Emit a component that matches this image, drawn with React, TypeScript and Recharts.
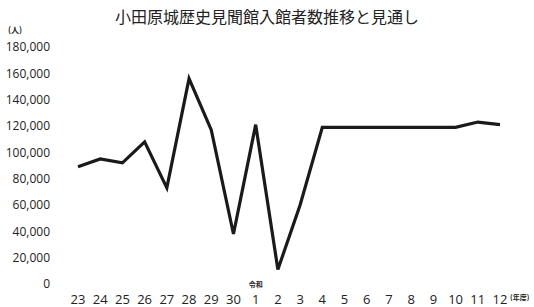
import { Line, LineChart, XAxis, YAxis } from "recharts";

const years = ["23", "24", "25", "26", "27", "28", "29", "30", "1", "2", "3", "4", "5", "6", "7", "8", "9", "10", "11", "12"];
const visitors = [89000, 95000, 92000, 108000, 73000, 156000, 117000, 38000, 121000, 11000, 60000, 119000, 119000, 119000, 119000, 119000, 119000, 119000, 123000, 121000];
const yTicks = [0, 20000, 40000, 60000, 80000, 100000, 120000, 140000, 160000, 180000];

const data = years.map((year, i) => ({ year, visitors: visitors[i] }));

const font = "'Open Sans', 'Noto Sans CJK JP', sans-serif";

function YearTick(props: any) {
  const { x, y, payload } = props;
  return (
    <g>
      {payload.value === "1" && (
        <text x={x} y={y + 1} textAnchor="middle" fontSize={7} fontWeight="bold" fill="#222" fontFamily="'Noto Sans CJK JP', sans-serif">
          令和
        </text>
      )}
      <text x={x} y={y + 18} textAnchor="middle" fontSize={13} fill="#222" fontFamily={font}>
        {payload.value}
      </text>
    </g>
  );
}

function App() {
  return (
    <div style={{ position: "absolute", left: 0, top: 0, width: 534, height: 307, background: "#fff" }}>
      <div style={{ position: "absolute", left: 0, width: 534, top: 6, textAlign: "center", fontFamily: "'Noto Sans CJK JP', sans-serif", fontSize: 16, color: "#222", lineHeight: "20px" }}>
        小田原城歴史見聞館入館者数推移と見通し
      </div>
      <div style={{ position: "absolute", left: 8, top: 24, fontFamily: "'Noto Sans CJK JP', sans-serif", fontSize: 8, fontWeight: "bold", color: "#222" }}>
        (人)
      </div>
      <div style={{ position: "absolute", left: 510, top: 292, fontFamily: "'Noto Sans CJK JP', sans-serif", fontSize: 7, fontWeight: "bold", color: "#222" }}>
        (年度)
      </div>
      <LineChart width={534} height={307} data={data} margin={{ top: 47, right: 20, left: 0, bottom: 0 }}>
        <XAxis
          dataKey="year"
          scale="point"
          padding={{ left: 18, right: 14 }}
          axisLine={false}
          tickLine={false}
          tickSize={0}
          height={23}
          interval={0}
          tick={<YearTick />}
        />
        <YAxis
          domain={[0, 180000]}
          ticks={yTicks}
          width={60}
          axisLine={false}
          tickLine={false}
          tickSize={0}
          tickMargin={10}
          tickFormatter={(v: number) => v.toLocaleString("en-US")}
          tick={{ fontSize: 12, fill: "#222", fontFamily: font }}
        />
        <Line
          type="linear"
          dataKey="visitors"
          stroke="#1a1a1a"
          strokeWidth={3.2}
          dot={false}
          isAnimationActive={false}
        />
      </LineChart>
    </div>
  );
}

export default App;
